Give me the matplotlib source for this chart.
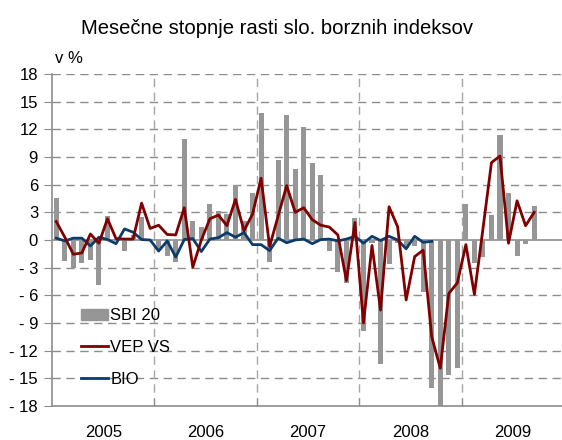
import numpy as np
import matplotlib
matplotlib.use("Agg")
import matplotlib.pyplot as plt
from matplotlib.patches import Patch
from matplotlib.lines import Line2D

plt.rcParams['font.family'] = ['Liberation Sans', 'DejaVu Sans']

YEARS = ["2005", "2006", "2007", "2008", "2009"]

# monthly growth rates in %, Jan 2005 onwards
sbi20 = [4.6, -2.3, -3.0, -2.5, -2.2, -4.9, 2.6, 0.1, -1.2, 0.5, 2.5, 0.1,
         -1.1, -1.7, -2.4, 10.9, 2.1, 1.45, 3.9, 3.1, 2.8, 6.0, 2.1, 5.1,
         13.8, -2.4, 8.7, 13.6, 7.7, 12.3, 8.4, 7.0, -1.2, -3.5, -4.7, 2.35,
         -9.9, -0.3, -13.4, -2.6, -0.35, -0.9, -0.6, -5.65, -16.0, -18.1, -14.6, -13.9,
         3.85, -2.5, -1.85, 2.75, 11.4, 5.1, -1.7, -0.45, 3.7]

vep_vs = [2.0, 0.3, -1.55, -1.4, 0.65, -0.35, 2.3, 0.15, 0.1, 0.1, 4.0, 1.25,
          1.6, 0.6, 0.55, 3.5, -2.95, 0.0, 2.3, 2.7, 1.55, 4.4, 1.0, 2.8,
          6.7, -0.7, 2.6, 5.9, 3.0, 3.5, 2.2, 1.6, 1.4, 0.55, -4.4, 1.9,
          -9.0, -0.6, -7.6, 3.6, 1.45, -6.5, -1.8, -1.1, -10.5, -13.9, -5.8, -4.65,
          -0.5, -5.9, 1.2, 8.4, 9.1, -0.35, 4.25, 1.55, 3.0]

bio = [0.2, -0.1, 0.2, 0.2, -0.65, 0.3, 0.05, -0.4, 1.2, 0.85, 0.05, 0.0,
       -1.2, -0.1, -1.85, 0.05, 0.15, -1.25, 0.1, 0.25, 0.8, 0.3, 0.8, -0.5,
       -0.5, -1.15, 0.2, -0.3, 0.0, 0.1, -0.4, 0.05, 0.1, -0.1, 0.1, 0.4,
       -0.35, 0.4, -0.05, 0.4, 0.0, -0.95, 0.4, -0.25, -0.15]

Y_TICKS = [18, 15, 12, 9, 6, 3, 0, -3, -6, -9, -12, -15, -18]
Y_LABELS = ["18", "15", "12", "9", "6", "3", "0", "- 3", "- 6", "- 9", "- 12", "- 15", "- 18"]

GREY_BAR = "#969696"
RED = "#800000"
BLUE = "#0b3c6b"
GRID = "#8c8c8c"

fig = plt.figure(figsize=(5.62, 4.40), dpi=100)
ax = fig.add_axes([52 / 562, 34 / 440, 512 / 562, 332 / 440])

x_bar = np.arange(len(sbi20))
ax.bar(x_bar, sbi20, width=0.6, color=GREY_BAR, zorder=2)
ax.plot(np.arange(len(vep_vs)), vep_vs, color=RED, lw=2.0, zorder=4)
ax.plot(np.arange(len(bio)), bio, color=BLUE, lw=2.0, zorder=3)

ax.set_xlim(-0.5, 59.5)
ax.set_ylim(-18, 18)

# grid: dashed horizontals, dashed year separators, solid zero line
for y in Y_TICKS:
    if y in (0, -18):
        continue
    ax.axhline(y, color=GRID, lw=1.0, ls=(0, (6, 4)), zorder=1)
for b in [11.5, 23.5, 35.5, 47.5]:
    ax.axvline(b, color="#a6a6a6", lw=1.0, ls=(0, (6, 4)), zorder=1)
ax.axhline(0, color="#8c8c8c", lw=1.2, zorder=1.5)

ax.set_yticks(Y_TICKS)
ax.set_yticklabels(Y_LABELS, fontsize=12)
ax.tick_params(axis='y', length=6, color=GRID, pad=4)

ax.set_xticks([11.5, 23.5, 35.5, 47.5])
ax.set_xticklabels([])
ax.tick_params(axis='x', which='major', direction='in', length=6, color=GRID)
ax.set_xticks([5.5, 17.5, 29.5, 41.5, 53.5], minor=True)
ax.set_xticklabels(YEARS, minor=True, fontsize=12)
ax.tick_params(axis='x', which='minor', length=0, pad=14)

for side in ("top", "right"):
    ax.spines[side].set_visible(False)
for side in ("left", "bottom"):
    ax.spines[side].set_color(GRID)
    ax.spines[side].set_linewidth(1.2)

handles = [Patch(color=GREY_BAR), Line2D([], [], color=RED, lw=2.0), Line2D([], [], color=BLUE, lw=2.0)]
ax.legend(handles, ["SBI 20", "VEP VS", "BIO"], loc="upper left", bbox_to_anchor=(0.057, 0.294),
          frameon=False, fontsize=12, handlelength=1.6, handleheight=0.7, handletextpad=0.15,
          labelspacing=1.0, borderaxespad=0, borderpad=0)

fig.text(0.493, 0.936, "Mesečne stopnje rasti slo. borznih indeksov", ha="center", va="center", fontsize=14.6)
ax.text(0.006, 1.025, "v %", transform=ax.transAxes, ha="left", va="bottom", fontsize=12)

fig.savefig("out.png", dpi=100)
